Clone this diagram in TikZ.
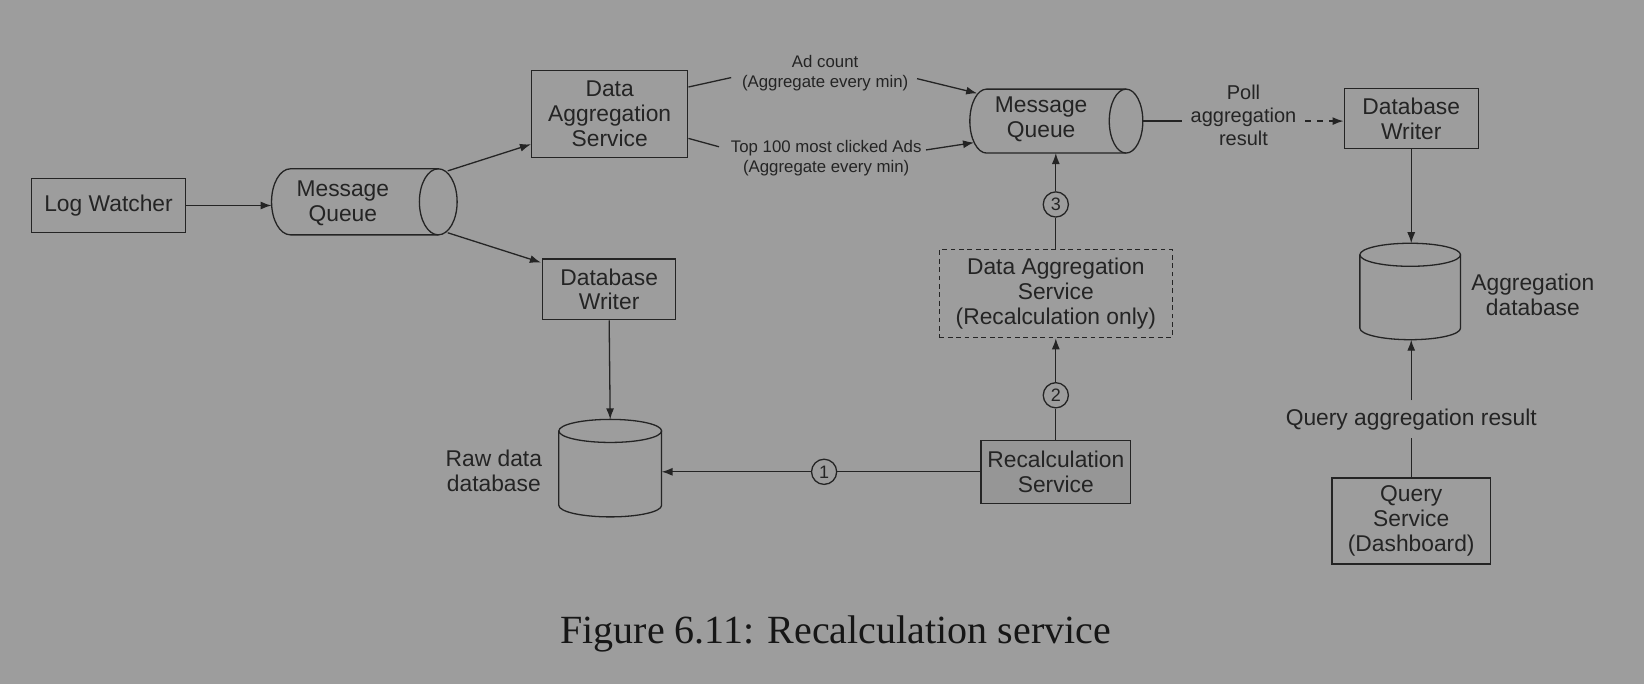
\documentclass[tikz,border=0pt]{standalone}
\usepackage{fontspec}
\setmainfont{Liberation Sans}
\newfontfamily\capfont{Liberation Serif}
\usetikzlibrary{arrows.meta,calc}
\definecolor{bg}{RGB}{157,157,157}
\definecolor{ink}{RGB}{36,36,36}
\definecolor{capink}{RGB}{22,22,22}
\definecolor{recfill}{RGB}{150,150,150}
\newlength\pxu
\setlength\pxu{0.52425pt}
\begin{document}
\begin{tikzpicture}[x=0.52425pt,y=0.52425pt,
  conn/.style={draw=ink, line width=0.65pt},
  arr/.style={conn, -{Latex[length=5.5pt,width=4pt]}},
  box/.style={draw=ink, line width=0.65pt, inner sep=0pt, align=center, text=ink,
    font=\fontsize{11.4}{12.4}\selectfont},
  frame/.style={inner sep=0pt, outer sep=0pt},
  lbl/.style={inner sep=0pt, align=center, text=ink, font=\fontsize{11.4}{12.4}\selectfont},
  small/.style={inner sep=0pt, align=center, text=ink, font=\fontsize{8.4}{10}\selectfont},
  num/.style={circle, draw=ink, line width=0.65pt, minimum size=24*\pxu, inner sep=0pt,
    text=ink, font=\fontsize{9}{9}\selectfont}
]
\path[use as bounding box, fill=bg] (0,0) rectangle (1568,-652);

% Log watcher
\node[box, minimum width=147*\pxu, minimum height=52*\pxu] (logw) at (103.5,-196) {Log Watcher};

% Message queue 1 (horizontal cylinder)
\node[frame, minimum width=177*\pxu, minimum height=63*\pxu] (mq1) at (347.5,-192.5) {};
\draw[conn] (418,-161) -- (277,-161) arc[start angle=90,end angle=270,x radius=18,y radius=31.5] -- (418,-224);
\draw[conn] (418,-192.5) ellipse [x radius=18, y radius=31.5];
\node[lbl] (mq1t) at (327,-194) {Message\\Queue};
\coordinate (mq1ne) at (427,-163);
\coordinate (mq1se) at (427,-222);

% Data aggregation service
\node[box, minimum width=149*\pxu, minimum height=83*\pxu] (das1) at (581.5,-108.5) {Data\\Aggregation\\Service};
% Database writer 1
\node[box, minimum width=127*\pxu, minimum height=58*\pxu] (dbw1) at (581,-276) {Database\\Writer};

% Raw data database
\node[frame, minimum width=98*\pxu, minimum height=93*\pxu] (rawdb) at (582,-446.5) {};
\draw[conn] (533,-411) -- (533,-482) arc[start angle=180,end angle=360,x radius=49,y radius=11] -- (631,-411);
\draw[conn] (582,-411) ellipse [x radius=49, y radius=11];
\node[lbl] (rawl) at (471,-449) {Raw data\\database};

% Recalculation service
\node[box, fill=recfill, minimum width=143*\pxu, minimum height=60*\pxu] (recalc) at (1007,-450) {Recalculation\\Service};
\node[num] (c1) at (786,-450) {1};

% Data aggregation service (recalculation only)
\node[box, dash pattern=on 2.4pt off 1.8pt, minimum width=222*\pxu, minimum height=84*\pxu] (das2) at (1007,-280) {Data Aggregation\\Service\\(Recalculation only)};
\node[num] (c2) at (1007,-377) {2};
\node[num] (c3) at (1007,-195) {3};

% Message queue 2
\node[frame, minimum width=165*\pxu, minimum height=61*\pxu] (mq2) at (1007.5,-115.5) {};
\draw[conn] (1074,-85) -- (941,-85) arc[start angle=90,end angle=270,x radius=16,y radius=30.5] -- (1074,-146);
\draw[conn] (1074,-115.5) ellipse [x radius=16, y radius=30.5];
\node[lbl] (mq2t) at (993,-113.5) {Message\\Queue};

% labels between DAS and MQ2
\node[small] (adc) at (787,-69.5) {Ad count\\(Aggregate every min)};
\node[small] (top) at (788,-150.5) {Top 100 most clicked Ads\\(Aggregate every min)};

% Poll label
\node[inner sep=0pt, align=center, text=ink, font=\fontsize{10}{11.3}\selectfont] (poll) at (1186,-110) {Poll\\aggregation\\result};

% Database writer 2
\node[box, minimum width=128*\pxu, minimum height=57*\pxu] (dbw2) at (1346,-113) {Database\\Writer};

% Aggregation database
\node[frame, minimum width=96*\pxu, minimum height=92*\pxu] (aggdb) at (1345,-278) {};
\draw[conn] (1297,-243) -- (1297,-313) arc[start angle=180,end angle=360,x radius=48,y radius=11] -- (1393,-243);
\draw[conn] (1345,-243) ellipse [x radius=48, y radius=11];
\node[lbl] (aggl) at (1462,-281) {Aggregation\\database};

\node[lbl, inner sep=4pt] (ql) at (1346,-400) {Query aggregation result};
\node[box, minimum width=151*\pxu, minimum height=82*\pxu] (qs) at (1346,-497) {Query\\Service\\(Dashboard)};

% Caption
\node[inner sep=0pt, text=capink, font=\capfont\fontsize{20}{24}\selectfont] (cap) at (797,-605) {Figure 6.11: Recalculation service};

% Connectors
\draw[arr] (logw.east) -- (logw.east -| mq1.west);
\draw[arr] (mq1ne) -- ($(das1.south west)+(0,13)$);
\draw[arr] (mq1se) -- ($(dbw1.north west)+(-1,-4)$);
\draw[arr] (dbw1.south) -- (rawdb.north);
\draw[conn] (recalc.west) -- (c1.east);
\draw[arr] (c1.west) -- (c1.west -| rawdb.east);
\draw[conn] (recalc.north) -- (c2.south);
\draw[arr] (c2.north) -- (das2.south);
\draw[conn] (das2.north) -- (c3.south);
\draw[arr] (c3.north) -- (c3.north |- mq2.south);
\draw[conn] ($(das1.east)+(0,25.5)$) -- ($(adc.west)+(-10,-4.5)$);
\draw[arr] ($(adc.east)+(8,-5.5)$) -- ($(mq2.west)+(7,26.5)$);
\draw[conn] ($(das1.east)+(0,-23.5)$) -- ($(top.west)+(-11,10.5)$);
\draw[arr] ($(top.east)+(4,7.5)$) -- ($(mq2.west)+(4,-20.5)$);
\draw[conn] (mq2.east) -- ($(poll.west |- mq2.east)+(-8,0)$);
\draw[arr, dashed] ($(poll.east |- mq2.east)+(8,0)$) -- (mq2.east -| dbw2.west);
\draw[arr] (dbw2.south) -- (dbw2.south |- aggdb.north);
\draw[arr] (ql.north) -- (ql.north |- aggdb.south);
\draw[conn] (qs.north) -- (ql.south);
\end{tikzpicture}
\end{document}
